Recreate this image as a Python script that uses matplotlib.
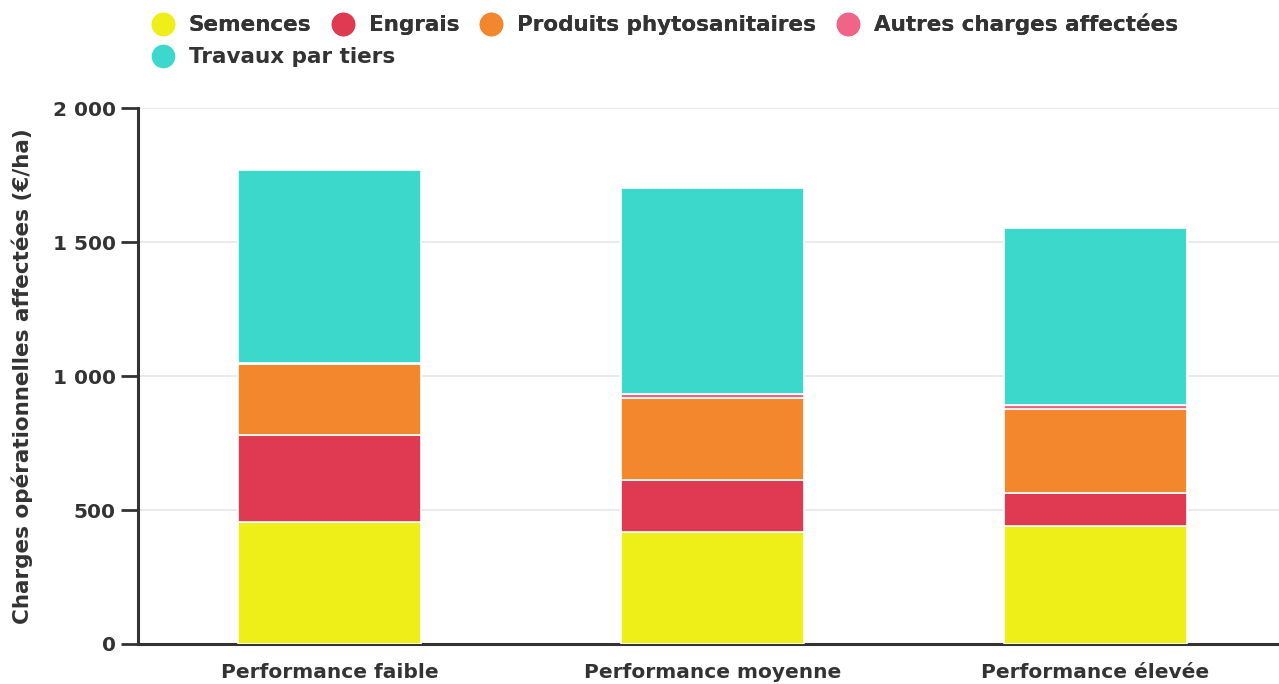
import matplotlib.pyplot as plt
from matplotlib.lines import Line2D
from matplotlib.ticker import FuncFormatter

# data (euros / ha)
categories = ["Performance faible", "Performance moyenne", "Performance élevée"]
series_names = ["Semences", "Engrais", "Produits phytosanitaires",
                "Autres charges affectées", "Travaux par tiers"]
semences = [455, 418, 441]
engrais = [325, 195, 122]
phyto = [265, 305, 315]
autres = [5, 15, 15]
travaux = [719, 768, 659]

colors = ["#EEEE18", "#E03A53", "#F3872D", "#F06488", "#3DD8CC"]
txt = "#333333"

fig = plt.figure(figsize=(12.79, 6.84), dpi=100)
ax = fig.add_axes([0.108, 0.0585, 0.892, 0.7835])

x = range(len(categories))
bottom = [0, 0, 0]
for vals, c in zip([semences, engrais, phyto, autres, travaux], colors):
    ax.bar(x, vals, 0.478, bottom=bottom, color=c, edgecolor="white",
           linewidth=1.2, zorder=3)
    bottom = [b + v for b, v in zip(bottom, vals)]

ax.set_xlim(-0.5, 2.48)
ax.set_ylim(0, 2000)
ax.set_yticks([0, 500, 1000, 1500, 2000])
ax.yaxis.set_major_formatter(FuncFormatter(lambda v, p: f"{int(v):,}".replace(",", " ")))
ax.set_xticks(list(x))
ax.set_xticklabels(categories)
ax.grid(axis="y", color="#e6e6e6", linewidth=1.2, zorder=0)

for s in ["top", "right"]:
    ax.spines[s].set_visible(False)
for s in ["left", "bottom"]:
    ax.spines[s].set_color(txt)
    ax.spines[s].set_linewidth(2.2)
ax.tick_params(axis="y", length=12, width=2, color=txt, labelsize=14.5, labelcolor=txt, pad=4)
ax.tick_params(axis="x", length=0, labelsize=14.5, labelcolor=txt, pad=14)
for lab in ax.get_xticklabels() + ax.get_yticklabels():
    lab.set_fontweight("bold")

ax.set_ylabel("Charges opérationnelles affectées (€/ha)", fontsize=15.5,
              fontweight="bold", color=txt)
ax.yaxis.set_label_coords(-0.092, 0.5)

handles = [Line2D([], [], marker="o", linestyle="", markersize=16,
                  markerfacecolor=c, markeredgecolor=c) for c in colors]
leg1 = fig.legend(handles[:4], series_names[:4], ncol=4, loc="upper left",
                  bbox_to_anchor=(0.107, 1.002), frameon=False, handletextpad=0.7,
                  columnspacing=0.98, handlelength=1.0, borderpad=0.2,
                  prop={"size": 15.5, "weight": "bold"}, labelcolor=txt)
fig.legend(handles[4:], series_names[4:], loc="upper left",
           bbox_to_anchor=(0.107, 0.953), frameon=False, handletextpad=0.7,
           handlelength=1.0, borderpad=0.2,
           prop={"size": 15.5, "weight": "bold"}, labelcolor=txt)
fig.add_artist(leg1)

fig.savefig("out.png", dpi=100)
